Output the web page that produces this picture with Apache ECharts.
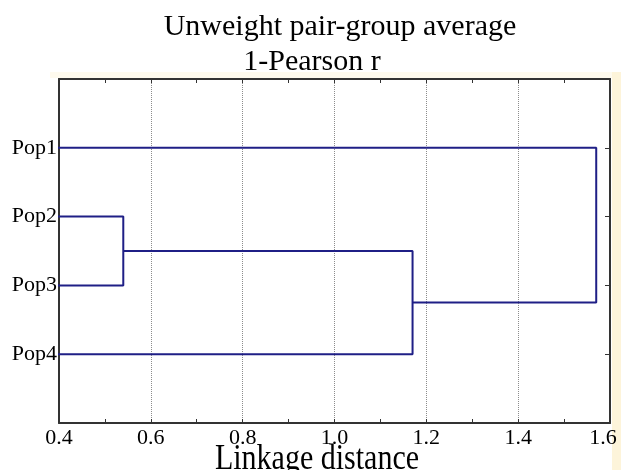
<!DOCTYPE html>
<html>
<head>
<meta charset="utf-8">
<script src="https://cdn.jsdelivr.net/npm/echarts@6/dist/echarts.min.js"></script>
<style>html,body{margin:0;padding:0;background:#fff}#c{width:621px;height:470px}</style>
</head>
<body>
<div id="c"></div>
<script>
// Leaves (top to bottom)
const leaves = ['Pop1', 'Pop2', 'Pop3', 'Pop4'];
// Linkage steps: joined nodes and linkage distance
const linkA = ['Pop2', 'Cluster1', 'Cluster2'];
const linkB = ['Pop3', 'Pop4', 'Pop1'];
const linkDistance = [0.54, 1.17, 1.57];
// Axis
const xMin = 0.4, xMax = 1.6, xStep = 0.2;
const titleLines = ['Unweight pair-group average', '1-Pearson r'];
const xName = 'Linkage distance';

const serif = "'Liberation Serif', 'DejaVu Serif', serif";
const lineColor = '#1f1f86';
const frameColor = '#333333';

// build node positions
const nodes = {};
leaves.forEach((n, i) => { nodes[n] = { y: i + 1, h: 0 }; });
const series = [];
linkDistance.forEach((d, k) => {
  const a = nodes[linkA[k]], b = nodes[linkB[k]];
  nodes['Cluster' + (k + 1)] = { y: (a.y + b.y) / 2, h: d };
  series.push({
    type: 'line', xAxisIndex: 0, yAxisIndex: 0, symbol: 'none', clip: true,
    silent: true, animation: false,
    lineStyle: { color: lineColor, width: 2 },
    data: [[a.h, a.y], [d, a.y], [d, b.y], [b.h, b.y]]
  });
});

const chart = echarts.init(document.getElementById('c'));
const baseX = {
  type: 'value', min: xMin, max: xMax, interval: xStep,
  axisLine: { show: true, onZero: false, lineStyle: { color: frameColor, width: 2 } },
  axisTick: { show: true, inside: true, length: 4, lineStyle: { color: frameColor } },
  minorTick: { show: true, splitNumber: 2, length: 4, lineStyle: { color: frameColor } },
};
const baseY = {
  type: 'value', min: 0, max: leaves.length + 1, interval: 1, inverse: true,
  axisLine: { show: true, onZero: false, lineStyle: { color: frameColor, width: 2 } },
  splitLine: { show: false }
};
chart.setOption({
  backgroundColor: '#ffffff',
  animation: false,
  grid: { left: 59, right: 11, top: 79, bottom: 47, containLabel: false, outerBoundsMode: 'none' },
  xAxis: [
    Object.assign({}, baseX, {
      position: 'bottom',
      axisLabel: {
        formatter: v => (v >= xMax - 1e-9 ? '{r|' + v.toFixed(1) + '}' : v.toFixed(1)),
        fontFamily: serif, fontSize: 22, color: '#000', margin: 4,
        rich: { r: { fontFamily: serif, fontSize: 22, color: '#000', padding: [0, 14, 0, 0] } }
      },
      splitLine: { show: true, lineStyle: { type: 'dotted', color: '#8c8c8c', width: 1 } }
    }),
    Object.assign({}, baseX, {
      position: 'top', axisLabel: { show: false }, splitLine: { show: false }
    })
  ],
  yAxis: [
    Object.assign({}, baseY, {
      position: 'left',
      axisTick: { show: false },
      axisLabel: { formatter: v => leaves[v - 1] || '', fontFamily: serif, fontSize: 22, color: '#000', margin: 2 }
    }),
    Object.assign({}, baseY, {
      position: 'right',
      axisTick: { show: true, inside: true, length: 5, lineStyle: { color: frameColor } },
      axisLabel: { show: false }
    })
  ],
  graphic: [
    { type: 'rect', z: -10, shape: { x: 612, y: 72, width: 9, height: 398 }, style: { fill: '#fdf4da' } },
    { type: 'rect', z: -10, shape: { x: 50, y: 72, width: 562, height: 6 }, style: { fill: '#fefaee' } },
    { type: 'text', x: 340, y: 27, style: { text: titleLines[0], font: "30px " + serif, fill: '#000', textAlign: 'center', textVerticalAlign: 'middle' } },
    { type: 'text', x: 312, y: 62, style: { text: titleLines[1], font: "30px " + serif, fill: '#000', textAlign: 'center', textVerticalAlign: 'middle' } },
    { type: 'text', x: 317, y: 460, scaleY: 1.18, style: { text: xName, font: "30px " + serif, fill: '#000', textAlign: 'center', textVerticalAlign: 'middle' } }
  ],
  series: series
});
</script>
</body>
</html>
